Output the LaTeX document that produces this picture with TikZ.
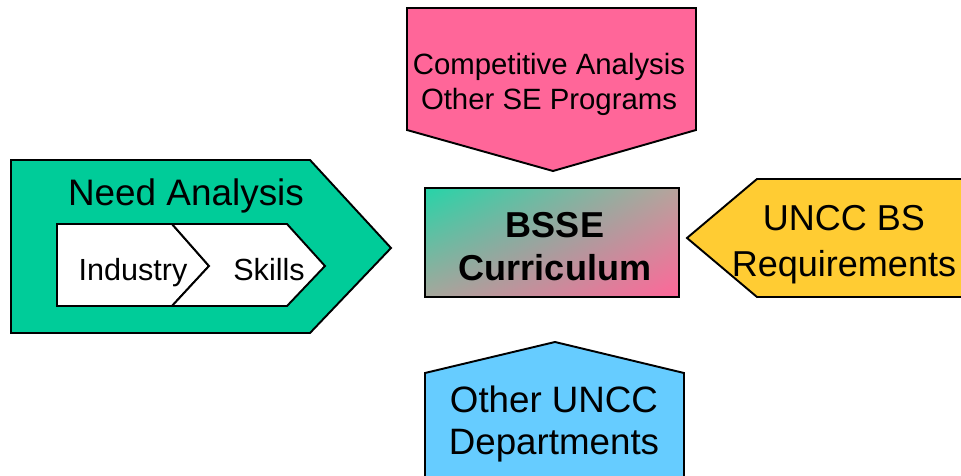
\documentclass[tikz,border=0pt]{standalone}
\usepackage{fontspec}
\setmainfont{Liberation Sans}
\usetikzlibrary{shadings}

\definecolor{needgreen}{HTML}{00CC99}
\definecolor{comppink}{HTML}{FF6699}
\definecolor{reqyellow}{HTML}{FFCC33}
\definecolor{deptblue}{HTML}{66CCFF}
\definecolor{curmid}{HTML}{B8A39C}

\begin{document}
\begin{tikzpicture}[x=0.02cm, y=-0.02cm,
        arrowbox/.style={draw=black, line width=1.1pt, line join=miter},
        bigtext/.style={font=\fontsize{20.8}{24}\selectfont, align=center, inner sep=0pt},
        midtext/.style={font=\fontsize{17}{20}\selectfont, align=center, inner sep=0pt}]
    \useasboundingbox (0,0) rectangle (961,476);
    \clip (0,0) rectangle (961,476);

    % need analysis, with its two inner chevrons
    \draw[arrowbox, fill=needgreen] (11,160) -- (310,160) -- (391,248) -- (310,333) -- (11,333) -- cycle;
    \draw[arrowbox, fill=white] (57,224) -- (172,224) -- (209,266) -- (172,306) -- (57,306) -- cycle;
    \draw[arrowbox, fill=white] (172,224) -- (287,224) -- (325,266) -- (287,306) -- (172,306) -- (209,266) -- cycle;
    \node (need)[bigtext, font=\fontsize{21}{24}\selectfont, anchor=base] at (186,206) {Need Analysis};
    \node (industry)[midtext, font=\fontsize{17.4}{20}\selectfont, anchor=base] at (133,281) {Industry};
    \node (skills)[midtext, font=\fontsize{17.4}{20}\selectfont, anchor=base] at (269,281) {Skills};

    % competitive analysis
    \draw[arrowbox, fill=comppink] (407,8) -- (696,8) -- (696,130) -- (553,171) -- (407,130) -- cycle;
    \node (comp)[midtext, font=\fontsize{16.7}{19.9}\selectfont] at (549,84.5) {Competitive Analysis\\Other SE Programs};

    % curriculum in the middle
    \node (bsse)[draw=black, line width=1.1pt, minimum width=5.08cm, minimum height=2.18cm,
        upper left=needgreen!85!white, upper right=curmid, lower left=curmid!90!needgreen, lower right=comppink] at (552,242.5) {};
    \node (bssetext)[bigtext, font=\fontsize{20.5}{24.5}\selectfont\bfseries] at (555,247) {BSSE\\Curriculum};

    % bs requirements
    \draw[arrowbox, fill=reqyellow] (687,238) -- (757,179) -- (980,179) -- (980,297) -- (757,297) -- cycle;
    \node (req)[bigtext, font=\fontsize{20.5}{26}\selectfont] at (844,245) {UNCC BS\\Requirements};

    % other departments
    \draw[arrowbox, fill=deptblue] (555,342) -- (684,373) -- (684,495) -- (425,495) -- (425,373) -- cycle;
    \node (dept)[bigtext, font=\fontsize{20.9}{23.9}\selectfont] at (554,424) {Other UNCC\\Departments};
\end{tikzpicture}
\end{document}
